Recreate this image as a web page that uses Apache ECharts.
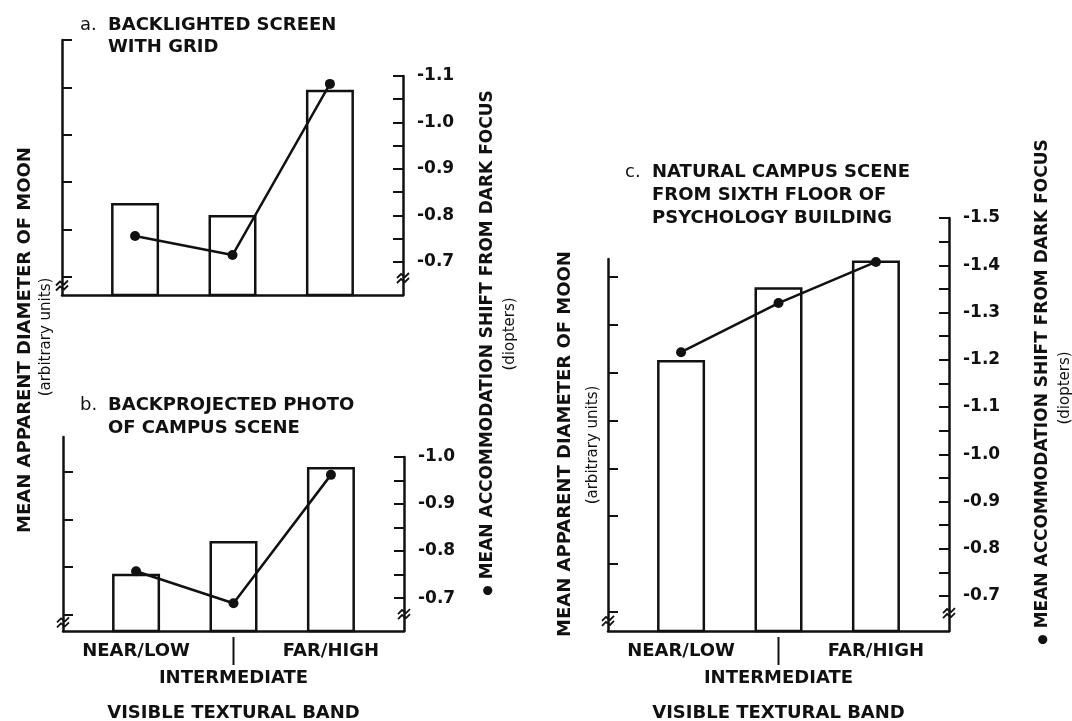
<!DOCTYPE html>
<html>
<head>
<meta charset="utf-8">
<title>Moon size and accommodation by visible textural band</title>
<script src="https://cdn.jsdelivr.net/npm/echarts@6.0.0/dist/echarts.min.js"></script>
<style>
  html, body { margin: 0; padding: 0; background: #fff; }
  #chart { width: 1072px; height: 721px; }
</style>
</head>
<body>
<div id="chart"></div>
<script>
"use strict";

// visible textural band, one entry per bar
var bands = ["NEAR/LOW", "INTERMEDIATE", "FAR/HIGH"];
var bandPos = [0, 1, 2];

// mean apparent diameter of moon (arbitrary units, 1 = first tick above the break)
var moonA = [2.56, 2.31, 4.95];
var moonB = [1.86, 2.55, 4.10];
var moonC = [6.27, 7.79, 8.35];

// mean accommodation shift from dark focus (diopters)
var shiftA = [-0.756, -0.715, -1.083];
var shiftB = [-0.757, -0.689, -0.962];
var shiftC = [-1.216, -1.320, -1.407];

// tick marks
var moonTicksA = [1, 2, 3, 4, 5, 6];
var moonTicksB = [1, 2, 3, 4];
var moonTicksC = [1, 2, 3, 4, 5, 6, 7, 8];
var shiftLabelsA = [-1.1, -1.0, -0.9, -0.8, -0.7];
var shiftLabelsB = [-1.0, -0.9, -0.8, -0.7];
var shiftLabelsC = [-1.5, -1.4, -1.3, -1.2, -1.1, -1.0, -0.9, -0.8, -0.7];

var INK = "#111";
var FONT = "DejaVu Sans";

var chart = echarts.init(document.getElementById("chart"));

function grid(left, top, height) {
  return { left: left, top: top, width: 341, height: height, containLabel: false, outerBoundsMode: "none" };
}

// bar grid x axis: baseline plus the two end labels
function bandAxis(gridIndex, withLabels) {
  return {
    type: "value",
    gridIndex: gridIndex,
    min: -0.75,
    max: 2.75,
    axisLine: { show: true, onZero: false, lineStyle: { color: INK, width: 2.5 } },
    axisTick: { show: false },
    splitLine: { show: false },
    axisLabel: {
      show: withLabels,
      hideOverlap: false,
      customValues: [bandPos[0], bandPos[2]],
      margin: 5,
      formatter: function (v) { return "{side|" + bands[Math.round(v)] + "}"; },
      rich: {
        side: { fontSize: 18, fontWeight: "bold", lineHeight: 30, fontFamily: FONT, color: INK }
      }
    }
  };
}

// overlay grid x axis: middle label with its stroke, and the axis title
function middleAxis(gridIndex, withLabels) {
  return {
    type: "value",
    gridIndex: gridIndex,
    show: withLabels,
    min: -0.75,
    max: 2.75,
    axisLine: { show: false },
    axisTick: { show: false },
    splitLine: { show: false },
    axisLabel: {
      show: withLabels,
      hideOverlap: false,
      customValues: [bandPos[1]],
      margin: 5,
      formatter: function (v) { return "{bar| }\n{mid|" + bands[Math.round(v)] + "}"; },
      rich: {
        bar: { width: 2, height: 28, lineHeight: 30, backgroundColor: INK, fontSize: 1 },
        mid: { fontSize: 18, fontWeight: "bold", lineHeight: 24, fontFamily: FONT, color: INK }
      }
    },
    name: withLabels ? "VISIBLE TEXTURAL BAND" : "",
    nameLocation: "middle",
    nameGap: 73,
    nameTextStyle: { fontSize: 18, fontWeight: "bold", fontFamily: FONT, color: INK }
  };
}

function moonAxis(gridIndex, min, max, ticks) {
  return {
    type: "value",
    gridIndex: gridIndex,
    position: "left",
    min: min,
    max: max,
    axisLine: { show: true, onZero: false, lineStyle: { color: INK, width: 2.5 } },
    axisTick: { show: true, inside: true, length: 10, customValues: ticks, lineStyle: { color: INK, width: 2 } },
    axisLabel: { show: false },
    splitLine: { show: false }
  };
}

function shiftAxis(gridIndex, min, max, labels) {
  var ticks = [];
  labels.forEach(function (v, i) {
    ticks.push(v);
    if (i < labels.length - 1) ticks.push((v + labels[i + 1]) / 2);
  });
  return {
    type: "value",
    gridIndex: gridIndex,
    position: "right",
    inverse: true,
    min: min,
    max: max,
    axisLine: { show: true, onZero: false, lineStyle: { color: INK, width: 2.5 } },
    axisTick: { show: true, inside: true, length: 10, customValues: ticks, lineStyle: { color: INK, width: 2 } },
    axisLabel: {
      customValues: labels,
      hideOverlap: false,
      margin: 14,
      fontSize: 17,
      fontWeight: "bold",
      fontFamily: FONT,
      color: INK,
      formatter: function (v) { return v.toFixed(1); }
    },
    splitLine: { show: false }
  };
}

function barSeries(axisIndex, values) {
  return {
    type: "bar",
    xAxisIndex: axisIndex,
    yAxisIndex: axisIndex,
    data: bandPos.map(function (p, i) { return [p, values[i]]; }),
    barWidth: 48,
    itemStyle: { color: "#fff", borderColor: INK, borderWidth: 2.5 },
    silent: true
  };
}

function lineSeries(axisIndex, values) {
  return {
    type: "line",
    xAxisIndex: axisIndex,
    yAxisIndex: axisIndex,
    data: bandPos.map(function (p, i) { return [p, values[i]]; }),
    symbol: "circle",
    symbolSize: 10,
    lineStyle: { color: INK, width: 2.5 },
    itemStyle: { color: INK },
    clip: false,
    silent: true
  };
}

chart.setOption({
  animation: false,
  backgroundColor: "#fff",
  grid: [
    grid(62, 40, 255),   // a, bars
    grid(62, 76, 219),   // a, accommodation
    grid(63, 437, 194),  // b, bars
    grid(63, 457, 174),  // b, accommodation
    grid(608, 259, 372), // c, bars
    grid(608, 218, 413)  // c, accommodation
  ],
  xAxis: [
    bandAxis(0, false),
    middleAxis(1, false),
    bandAxis(2, true),
    middleAxis(3, true),
    bandAxis(4, true),
    middleAxis(5, true)
  ],
  yAxis: [
    moonAxis(0, 0.62, 6, moonTicksA),
    shiftAxis(1, -1.1, -0.629, shiftLabelsA),
    moonAxis(2, 0.66, 4.73, moonTicksB),
    shiftAxis(3, -1.0, -0.63, shiftLabelsB),
    moonAxis(4, 0.6, 8.38, moonTicksC),
    shiftAxis(5, -1.5, -0.626, shiftLabelsC)
  ],
  series: [
    barSeries(0, moonA),
    lineSeries(1, shiftA),
    barSeries(2, moonB),
    lineSeries(3, shiftB),
    barSeries(4, moonC),
    lineSeries(5, shiftC)
  ]
});

function text(x, y, str, size, weight) {
  return {
    type: "text", x: x, y: y, silent: true,
    style: { text: str, font: (weight || "bold") + " " + size + "px '" + FONT + "'", fill: INK, textAlign: "left", textVerticalAlign: "middle" }
  };
}

function vtext(x, y, str, size, weight) {
  return {
    type: "text", x: x, y: y, rotation: Math.PI / 2, silent: true,
    style: {
      text: str, font: (weight || "bold") + " " + size + "px '" + FONT + "'", fill: INK,
      textAlign: "center", textVerticalAlign: "middle",
      rich: { d: { fontSize: 12, fontFamily: FONT, fill: INK } }
    }
  };
}

// little break squiggles across an axis line
function breakMark(pt) {
  return [-2.5, 2.5].map(function (dy) {
    var x = pt[0], y = pt[1] + dy;
    return {
      type: "polyline", silent: true,
      shape: { points: [[x - 6, y + 2], [x - 2, y - 2], [x + 2, y + 1], [x + 6, y - 3]] },
      style: { stroke: INK, lineWidth: 1.8, fill: null }
    };
  });
}

var breaks = [];
[[0, 0.62], [2, 0.66], [4, 0.6]].forEach(function (b) {
  breaks = breaks.concat(breakMark(chart.convertToPixel({ xAxisIndex: b[0], yAxisIndex: b[0] }, [-0.75, (b[1] + 1) / 2])));
});
[[1, -0.629], [3, -0.63], [5, -0.626]].forEach(function (b) {
  breaks = breaks.concat(breakMark(chart.convertToPixel({ xAxisIndex: b[0], yAxisIndex: b[0] }, [2.75, (b[1] - 0.7) / 2])));
});

chart.setOption({
  graphic: [
    text(80, 25, "a.", 18, "normal"),
    text(108, 25, "BACKLIGHTED SCREEN", 18),
    text(108, 47, "WITH GRID", 18),
    text(80, 405, "b.", 18, "normal"),
    text(108, 405, "BACKPROJECTED PHOTO", 18),
    text(108, 428, "OF CAMPUS SCENE", 18),
    text(625, 172, "c.", 18, "normal"),
    text(652, 172, "NATURAL CAMPUS SCENE", 18),
    text(652, 195, "FROM SIXTH FLOOR OF", 18),
    text(652, 218, "PSYCHOLOGY BUILDING", 18),
    vtext(25, 340, "MEAN APPARENT DIAMETER OF MOON", 18),
    vtext(46, 337, "(arbitrary units)", 15, "normal"),
    vtext(488, 343, "{d|\u25CF} MEAN ACCOMMODATION SHIFT FROM DARK FOCUS", 17),
    vtext(510, 334, "(diopters)", 15, "normal"),
    vtext(565, 444, "MEAN APPARENT DIAMETER OF MOON", 18),
    vtext(593, 445, "(arbitrary units)", 15, "normal"),
    vtext(1043, 392, "{d|\u25CF} MEAN ACCOMMODATION SHIFT FROM DARK FOCUS", 17),
    vtext(1065, 388, "(diopters)", 15, "normal")
  ].concat(breaks)
});
</script>
</body>
</html>
